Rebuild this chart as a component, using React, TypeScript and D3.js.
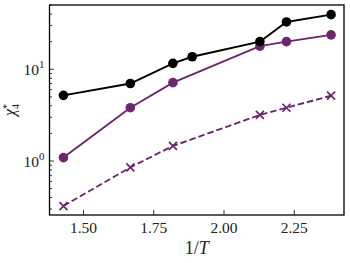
import { useRef, useEffect } from "react";
import * as d3 from "d3";

const invT = [1.4286, 1.6667, 1.8182, 1.8868, 2.1277, 2.2222, 2.381];
const blackVals = [5.2, 7.0, 11.6, 13.7, 20.0, 32.8, 39.4];

const purpleX = [1.4286, 1.6667, 1.8182, 2.1277, 2.2222, 2.381];
const purpleVals = [1.09, 3.81, 7.15, 17.9, 20.0, 23.7];
const crossVals = [0.323, 0.853, 1.46, 3.18, 3.81, 5.15];

const xTicks = [1.5, 1.75, 2.0, 2.25];
const yMajor = [1, 10];

const PURPLE = "#6c266a";
const FONT = "'Liberation Serif', 'DejaVu Serif', serif";

const App = () => {
  const svgRef = useRef<SVGSVGElement>(null);

  useEffect(() => {
    const svg = d3.select(svgRef.current);
    svg.selectAll("*").remove();

    const margin = { top: 5, right: 6, bottom: 48, left: 49.5 };
    const width = 350 - margin.left - margin.right;
    const height = 263 - margin.top - margin.bottom;

    const chart = svg
      .append("g")
      .attr("transform", `translate(${margin.left},${margin.top})`);

    const x = d3.scaleLinear().domain([1.379, 2.427]).range([0, width]);
    const y = d3.scaleLog().domain([0.258, 50.2]).range([height, 0]);

    // minor ticks
    const minor: number[] = [];
    for (const dec of [0.1, 1, 10]) {
      for (let k = 2; k <= 9; k++) {
        const v = dec * k;
        if (v >= 0.258 && v <= 50.2) minor.push(v);
      }
    }

    const yAxis = chart.append("g");
    yAxis
      .selectAll("line.minor")
      .data(minor)
      .join("line")
      .attr("x1", 0)
      .attr("x2", 2.5)
      .attr("y1", (d) => y(d))
      .attr("y2", (d) => y(d))
      .attr("stroke", "#000")
      .attr("stroke-width", 0.8);
    yAxis
      .selectAll("line.major")
      .data(yMajor)
      .join("line")
      .attr("x1", 0)
      .attr("x2", 4.5)
      .attr("y1", (d) => y(d))
      .attr("y2", (d) => y(d))
      .attr("stroke", "#000")
      .attr("stroke-width", 0.8);
    const yl = yAxis
      .selectAll("text.yl")
      .data(yMajor)
      .join("text")
      .attr("x", -5)
      .attr("y", (d) => y(d) + 5.5)
      .attr("text-anchor", "end")
      .attr("font-family", FONT)
      .attr("font-size", 15.5)
      .attr("fill", "#222");
    yl.append("tspan").text("10");
    yl.append("tspan")
      .attr("dy", -6.5)
      .attr("font-size", 11)
      .text((d) => String(Math.round(Math.log10(d))));

    const xAxis = chart.append("g");
    xAxis
      .selectAll("line")
      .data(xTicks)
      .join("line")
      .attr("x1", (d) => x(d))
      .attr("x2", (d) => x(d))
      .attr("y1", height)
      .attr("y2", height - 5)
      .attr("stroke", "#000")
      .attr("stroke-width", 0.8);
    xAxis
      .selectAll("text")
      .data(xTicks)
      .join("text")
      .attr("x", (d) => x(d))
      .attr("y", height + 18)
      .attr("text-anchor", "middle")
      .attr("font-family", FONT)
      .attr("font-size", 15.5)
      .attr("fill", "#222")
      .text((d) => d3.format(".2f")(d));

    const line = d3
      .line<[number, number]>()
      .x((d) => x(d[0]))
      .y((d) => y(d[1]));

    const blackData = invT.map((t, i) => [t, blackVals[i]] as [number, number]);
    const purpleData = purpleX.map((t, i) => [t, purpleVals[i]] as [number, number]);
    const crossData = purpleX.map((t, i) => [t, crossVals[i]] as [number, number]);

    chart
      .append("path")
      .datum(crossData)
      .attr("fill", "none")
      .attr("stroke", PURPLE)
      .attr("stroke-width", 1.9)
      .attr("stroke-dasharray", "6.5,3")
      .attr("d", line);
    const cs = 4;
    chart
      .selectAll("path.cross")
      .data(crossData)
      .join("path")
      .attr("fill", "none")
      .attr("stroke", PURPLE)
      .attr("stroke-width", 1.7)
      .attr("d", (d) => {
        const cx = x(d[0]);
        const cy = y(d[1]);
        return `M${cx - cs},${cy - cs}L${cx + cs},${cy + cs}M${cx - cs},${cy + cs}L${cx + cs},${cy - cs}`;
      });

    chart
      .append("path")
      .datum(purpleData)
      .attr("fill", "none")
      .attr("stroke", PURPLE)
      .attr("stroke-width", 1.9)
      .attr("d", line);
    chart
      .selectAll("circle.p")
      .data(purpleData)
      .join("circle")
      .attr("cx", (d) => x(d[0]))
      .attr("cy", (d) => y(d[1]))
      .attr("r", 4.8)
      .attr("fill", PURPLE);

    chart
      .append("path")
      .datum(blackData)
      .attr("fill", "none")
      .attr("stroke", "#000")
      .attr("stroke-width", 1.9)
      .attr("d", line);
    chart
      .selectAll("circle.b")
      .data(blackData)
      .join("circle")
      .attr("cx", (d) => x(d[0]))
      .attr("cy", (d) => y(d[1]))
      .attr("r", 4.8)
      .attr("fill", "#000");

    chart
      .append("rect")
      .attr("width", width)
      .attr("height", height)
      .attr("fill", "none")
      .attr("stroke", "#000")
      .attr("stroke-width", 1.3);

    const xl = svg
      .append("text")
      .attr("x", margin.left + width / 2)
      .attr("y", 254)
      .attr("text-anchor", "middle")
      .attr("font-family", FONT)
      .attr("font-size", 18)
      .attr("fill", "#222");
    xl.append("tspan").text("1/");
    xl.append("tspan").attr("font-style", "italic").text("T");

    const ylab = svg
      .append("text")
      .attr("transform", `translate(15,${margin.top + height / 2}) rotate(-90)`)
      .attr("text-anchor", "middle")
      .attr("font-family", FONT)
      .attr("font-size", 16)
      .attr("fill", "#222");
    ylab.append("tspan").attr("font-style", "italic").text("χ");
    ylab.append("tspan").attr("font-size", 10).attr("dy", 3.5).text("4");
    ylab.append("tspan").attr("font-size", 10).attr("dy", -8.5).attr("dx", -5).text("*");
  }, []);

  return (
    <svg
      ref={svgRef}
      width={350}
      height={263}
      style={{ position: "absolute", left: 0, top: 0 }}
    ></svg>
  );
};

export default App;
